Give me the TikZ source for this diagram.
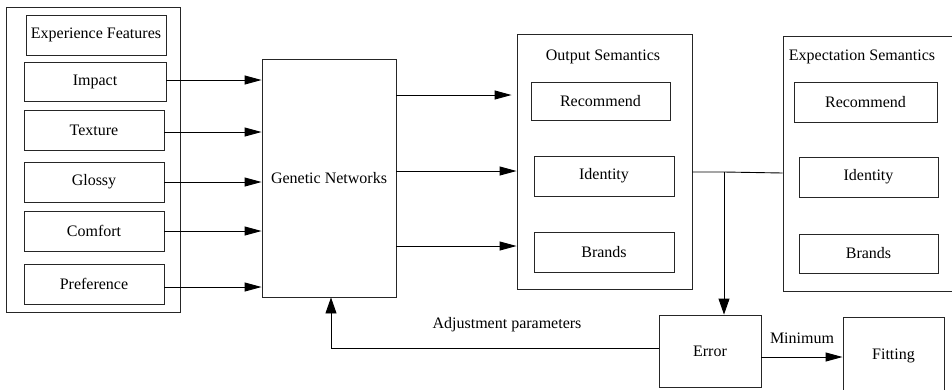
\documentclass[tikz,border=0pt]{standalone}
\usepackage{fontspec}
\setmainfont{Liberation Serif}
\usetikzlibrary{arrows.meta}
\begin{document}
\begin{tikzpicture}[x=1pt,y=-1pt,
  box/.style={draw=black!85, line width=0.9pt, inner sep=0pt, font=\fontsize{16}{19}\selectfont},
  lbl/.style={inner sep=0pt, font=\fontsize{16}{19}\selectfont},
  conn/.style={draw=black, line width=0.9pt},
  arr/.style={conn, -{Triangle[length=17pt,width=9pt]}},
  darr/.style={conn, -{Triangle[length=16pt,width=11pt]}}]
\useasboundingbox (0,0) rectangle (952,389);
% left group
\node[box, minimum width=174pt, minimum height=305pt] (outer) at (93,159.5) {};
\node[box, minimum width=140pt, minimum height=40pt] (expf) at (96,35) {Experience Features};
\node[box, minimum width=142pt, minimum height=39pt] (impact) at (95,81.5) {Impact};
\node[box, minimum width=140pt, minimum height=40pt] (texture) at (94,130) {Texture};
\node[box, minimum width=140pt, minimum height=40pt] (glossy) at (94,182) {Glossy};
\node[box, minimum width=140pt, minimum height=40pt] (comfort) at (94,231) {Comfort};
\node[box, minimum width=140pt, minimum height=40pt] (pref) at (94,284) {Preference};
% genetic networks
\node[box, minimum width=134pt, minimum height=238pt] (gen) at (329,178) {Genetic Networks};
% output semantics
\node[box, minimum width=175pt, minimum height=255pt] (out) at (604.5,161.5) {};
\node[lbl] (outt) at (603,57) {Output Semantics};
\node[box, minimum width=139pt, minimum height=38pt] (orec) at (600.5,101) {Recommend};
\node[box, minimum width=140pt, minimum height=40pt] (oid) at (604,176) {Identity};
\node[box, minimum width=140pt, minimum height=40pt] (obr) at (604,252) {Brands};
% expectation semantics
\node[box, minimum width=174pt, minimum height=255pt] (exp) at (870,163.5) {};
\node[lbl] (expt) at (862,57) {Expectation Semantics};
\node[box, minimum width=143pt, minimum height=40pt] (erec) at (865.5,102) {Recommend};
\node[box, minimum width=139pt, minimum height=40pt] (eid) at (868.5,177) {Identity};
\node[box, minimum width=139pt, minimum height=39pt] (ebr) at (868.5,253.5) {Brands};
% error and fitting
\node[box, minimum width=102pt, minimum height=72pt] (err) at (710,351) {Error};
\node[box, minimum width=101pt, minimum height=78pt] (fit) at (893.5,356) {Fitting};
% arrows from features
\draw[arr] (impact.east |- 0,80) -- (gen.west |- 0,80);
\draw[arr] (texture.east |- 0,132) -- (gen.west |- 0,132);
\draw[arr] (glossy.east |- 0,182) -- (gen.west |- 0,182);
\draw[arr] (comfort.east |- 0,231) -- (gen.west |- 0,231);
\draw[arr] (pref.east |- 0,287) -- (gen.west |- 0,287);
% arrows to output semantics
\draw[arr, shorten >=5pt] (gen.east |- 0,95) -- (out.west |- 0,95);
\draw[arr] (gen.east |- 0,171) -- (out.west |- 0,171);
\draw[arr] (gen.east |- 0,246) -- (out.west |- 0,246);
% comparison line
\coordinate (j) at (724,172);
\draw[conn] (out.east |- 0,172) -- (j) -- (exp.west |- 0,173);
\draw[darr] (j) -- (err.north -| j);
% feedback
\coordinate (fb) at (331,348);
\draw[darr] (err.west |- fb) -- (fb) -- (gen.south -| fb);
\node[lbl] (adj) at (507,325) {Adjustment parameters};
% minimum
\draw[arr] (err.east |- 0,357) -- (fit.west |- 0,357);
\node[lbl] (minl) at (802,338) {Minimum};
\end{tikzpicture}
\end{document}
